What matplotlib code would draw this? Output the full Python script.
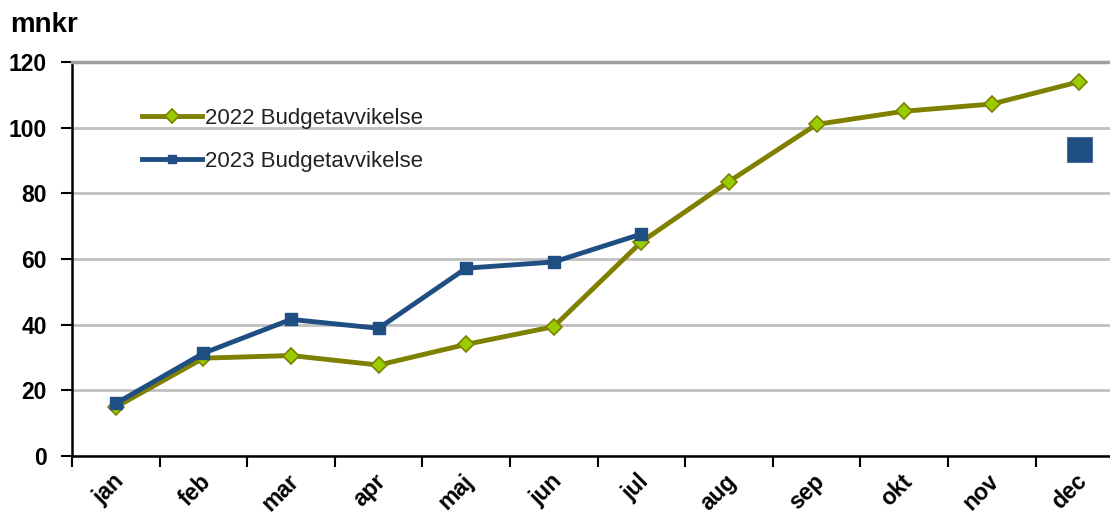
import numpy as np
import matplotlib.pyplot as plt
import matplotlib.transforms as mtransforms

plt.rcParams['font.family'] = ['Liberation Sans', 'DejaVu Sans']

months = ['jan', 'feb', 'mar', 'apr', 'maj', 'jun', 'jul', 'aug', 'sep', 'okt', 'nov', 'dec']
avvik_2022 = [14.9, 29.8, 30.6, 27.7, 34.0, 39.4, 65.2, 83.6, 101.0, 105.0, 107.2, 114.0]
avvik_2023 = [16.0, 31.3, 41.6, 38.9, 57.2, 59.1, 67.6]
prognos_2023 = 93.6  # full-year estimate shown at dec

olive = '#808000'
green = '#99cc00'
blue = '#1f4e82'

fig = plt.figure(figsize=(11.1, 5.15), dpi=100)
ax = fig.add_axes([72 / 1110, 1 - 456 / 515, 1 - 72 / 1110, (456 - 62) / 515])

x = np.arange(len(months))
ax.plot(x, avvik_2022, color=olive, lw=3.5, marker='D', ms=8.5,
        mfc=green, mec=olive, mew=1.2, label='2022 Budgetavvikelse', zorder=3)
ax.plot(x[:len(avvik_2023)], avvik_2023, color=blue, lw=3.5, marker='s', ms=8,
        mfc=blue, mec=blue, label='2023 Budgetavvikelse', zorder=4)
ax.plot([x[-1]], [prognos_2023], ls='none', marker='s', ms=18,
        mfc=blue, mec='#4a6f9c', mew=0.8, zorder=4)

ax.set_yticks(range(0, 121, 20))
ax.set_xticks(np.arange(-0.5, 12, 1))
ax.set_xticklabels([])
ax.set_xticks(x, minor=True)
ax.set_xticklabels(months, minor=True, rotation=45, ha='right',
                   rotation_mode='anchor', fontsize=16.5, fontweight='bold')
ax.set_ylim(0, 120)
ax.set_xlim(-0.5, 11.35)
ax.tick_params(axis='x', which='minor', length=0, pad=10)
ax.tick_params(axis='x', which='major', length=8, width=1.5, direction='out', color='black')
ax.tick_params(axis='y', length=8, width=1.5, direction='out', labelsize=16.5, pad=10)
for lbl in ax.get_yticklabels():
    lbl.set_fontweight('bold')

ax.yaxis.grid(True, color='#c0c0c0', lw=2)
ax.set_axisbelow(True)
ax.spines['right'].set_visible(False)
ax.spines['top'].set_color('#a0a0a0')
ax.spines['top'].set_linewidth(2.5)
ax.spines['left'].set_linewidth(1.8)
ax.spines['bottom'].set_linewidth(1.8)

# shift month labels a little left of their points
offset = mtransforms.ScaledTranslation(-4 / 100, 0, fig.dpi_scale_trans)
for lbl in ax.get_xticklabels(minor=True):
    lbl.set_transform(lbl.get_transform() + offset)

fig.text(10 / 1110, 1 - 25 / 515, 'mnkr', fontsize=20, fontweight='bold', va='center')

leg = ax.legend(loc='upper left', bbox_to_anchor=(0.048, 0.935), frameon=False,
                fontsize=16, handlelength=2.7, labelspacing=1.02, handletextpad=0.15,
                markerscale=0.8)
for t in leg.get_texts():
    t.set_color('#222222')

fig.savefig('out.png', dpi=100)
